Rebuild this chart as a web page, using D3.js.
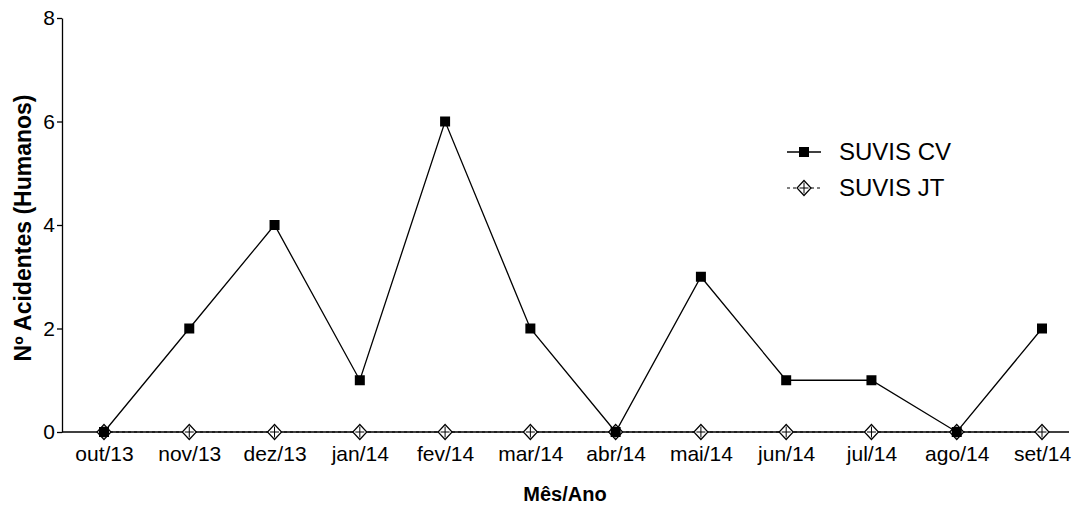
<!DOCTYPE html>
<html>
<head>
<meta charset="utf-8">
<script src="https://cdn.jsdelivr.net/npm/d3@7"></script>
<style>
  body { margin: 0; background: #fff; }
  svg { display: block; font-family: "Liberation Sans", Arial, sans-serif; }
</style>
</head>
<body>
<svg id="chart" width="1083" height="507"></svg>
<script>
const months = ['out/13','nov/13','dez/13','jan/14','fev/14','mar/14','abr/14','mai/14','jun/14','jul/14','ago/14','set/14'];
const suvisCV = [0,2,4,1,6,2,0,3,1,1,0,2];
const suvisJT = [0,0,0,0,0,0,0,0,0,0,0,0];
const yTicks = [0,2,4,6,8];

const svg = d3.select('#chart');
const plot = {left:62, right:1069, top:18, bottom:432};

const x = d3.scalePoint().domain(months).range([104,1042]);
const y = d3.scaleLinear().domain([0,8]).range([plot.bottom, plot.top]);

// y axis
const yAxis = svg.append('g').attr('transform',`translate(${plot.left},0)`)
    .call(d3.axisLeft(y).tickValues(yTicks).tickSize(5).tickSizeOuter(0).tickPadding(2).tickFormat(d3.format('d')));
yAxis.select('.domain').attr('stroke','#000').attr('stroke-width',1.3);
yAxis.selectAll('.tick line').attr('stroke','#000').attr('stroke-width',1.3);
yAxis.selectAll('text').style('font-size','21px').style('font-family','"Liberation Sans", Arial, sans-serif').attr('fill','#000');

// x axis (labels only, line drawn across)
const xAxis = svg.append('g').attr('transform',`translate(0,${plot.bottom})`)
    .call(d3.axisBottom(x).tickSize(0).tickPadding(14));
xAxis.select('.domain').remove();
xAxis.selectAll('text').style('font-size','21px').style('font-family','"Liberation Sans", Arial, sans-serif').attr('fill','#000');
svg.append('line').attr('x1',plot.left).attr('x2',plot.right).attr('y1',plot.bottom).attr('y2',plot.bottom)
    .attr('stroke','#000').attr('stroke-width',1.3);

// axis titles
svg.append('text').attr('transform','translate(31,228) rotate(-90)').attr('text-anchor','middle')
    .style('font-size','23px').style('font-weight','bold').text('Nº Acidentes (Humanos)');
svg.append('text').attr('x',565).attr('y',501).attr('text-anchor','middle')
    .style('font-size','20px').style('font-weight','bold').text('Mês/Ano');

// markers
function diamond(g, cx, cy){
    const s = 7.5;
    g.append('path').attr('d',`M${cx},${cy-s}L${cx+s-0.5},${cy}L${cx},${cy+s}L${cx-s+0.5},${cy}Z`)
        .attr('fill','#fff').attr('stroke','#000').attr('stroke-width',1.2);
    g.append('path').attr('d',`M${cx},${cy-s+2}V${cy+s-2}M${cx-s+3},${cy}H${cx+s-3}`)
        .attr('stroke','#000').attr('stroke-width',1);
}
function square(g, cx, cy){
    g.append('rect').attr('x',cx-5).attr('y',cy-5).attr('width',10).attr('height',10).attr('fill','#000');
}

// SUVIS JT
const jtLine = d3.line().x((d,i)=>x(months[i])).y(d=>y(d));
svg.append('path').datum(suvisJT).attr('d',jtLine).attr('fill','none')
    .attr('stroke','#000').attr('stroke-width',1.2).attr('stroke-dasharray','3,3');
const gJT = svg.append('g');
suvisJT.forEach((v,i)=>diamond(gJT, x(months[i]), y(v)));

// SUVIS CV
const cvLine = d3.line().x((d,i)=>x(months[i])).y(d=>y(d));
svg.append('path').datum(suvisCV).attr('d',cvLine).attr('fill','none')
    .attr('stroke','#000').attr('stroke-width',1.3);
const gCV = svg.append('g');
suvisCV.forEach((v,i)=>square(gCV, x(months[i]), y(v)));

// legend
const lg = svg.append('g');
lg.append('line').attr('x1',787).attr('x2',821).attr('y1',152).attr('y2',152).attr('stroke','#000').attr('stroke-width',1.3);
square(lg, 804, 152);
lg.append('text').attr('x',839).attr('y',160).style('font-size','24px').text('SUVIS CV');
lg.append('line').attr('x1',787).attr('x2',821).attr('y1',188).attr('y2',188).attr('stroke','#000').attr('stroke-width',1.2).attr('stroke-dasharray','3,3');
diamond(lg, 804, 188);
lg.append('text').attr('x',839).attr('y',196).style('font-size','24px').text('SUVIS JT');
</script>
</body>
</html>
